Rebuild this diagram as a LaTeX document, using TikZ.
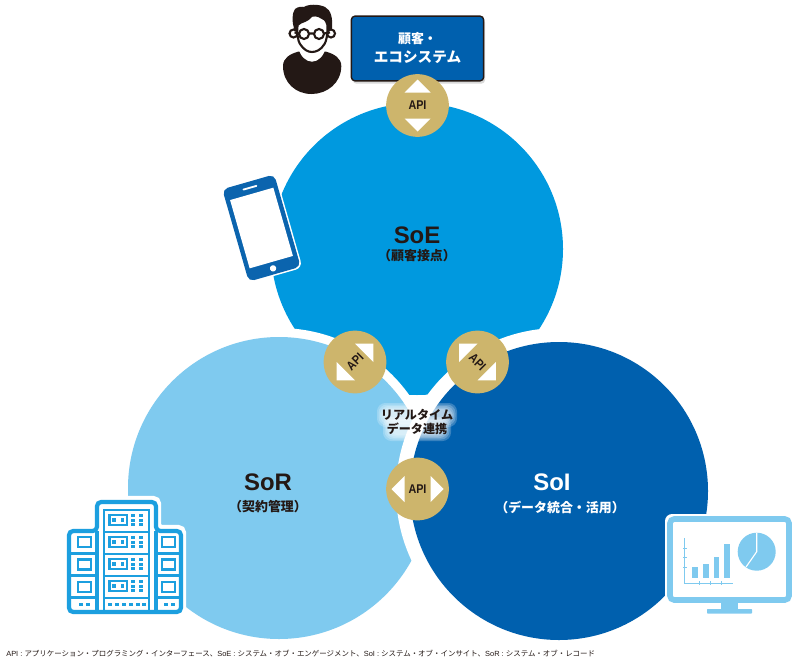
\documentclass[tikz,border=0pt]{standalone}
\usepackage{fontspec}
\setmainfont{Noto Sans CJK JP}
\newfontfamily\latinfont{Liberation Sans}
\newfontfamily\apifont[FakeStretch=0.85]{Liberation Sans}
\usetikzlibrary{shadows}
\definecolor{colorE}{HTML}{0099DF}
\definecolor{colorR}{HTML}{7FCAEF}
\definecolor{colorI}{HTML}{0060AE}
\definecolor{colorA}{HTML}{CDB56C}
\definecolor{colorK}{HTML}{231815}
\definecolor{colorP}{HTML}{0B64AE}
\definecolor{colorB}{HTML}{1C9FDF}
\tikzset{
    bigname/.style={font=\latinfont\bfseries\fontsize{17}{20}\selectfont, text=#1},
    subname/.style={font=\bfseries\fontsize{9.2}{11}\selectfont, text=#1, inner sep=0pt},
    badge/.style={circle, fill=colorA, minimum size=44.6pt, inner sep=0pt, text=colorK,
        font=\apifont\bfseries\fontsize{9}{10}\selectfont},
    bld/.style={draw=colorB, line width=3pt},
    bldthin/.style={draw=colorB, line width=1.9pt},
    bldbox/.style={draw=colorB, line width=1.5pt},
}
\newcommand{\apitri}[2]{
    \begin{scope}[shift={(#1)}, rotate=#2]
        \fill[white] (26,0) -- (13,13) -- (13,-13) -- cycle;
        \fill[white] (-26,0) -- (-13,13) -- (-13,-13) -- cycle;
    \end{scope}
}
\begin{document}
\begin{tikzpicture}[x=0.025cm, y=-0.025cm]
    \useasboundingbox (0,0) rectangle (800,670);
    % circles
    \fill[colorE] (417,249) circle (146);
    \fill[white] (279,488) circle (160);
    \fill[colorR] (279,488) circle (151);
    \fill[white] (559,491) circle (163);
    \fill[colorI] (559,491) circle (149);
    % customer box
    \node[draw=colorK, fill=colorI, line width=1pt, rounded corners=2.5pt, minimum width=94pt,
        minimum height=46pt, inner sep=0pt, align=center, text=white,
        font=\bfseries\fontsize{10.4}{13.5}\selectfont,
        drop shadow={shadow xshift=1pt, shadow yshift=-2pt, opacity=0.3}] (customer) at (417.5,48.5)
        {{\fontsize{9.2}{13.5}\selectfont 顧客・}\\エコシステム};
    % person
    \fill[colorK] (283,66) .. controls (283,58) and (290,54) .. (298,51.7) -- (326.3,51.7)
        .. controls (334,54) and (341.3,58) .. (341.3,66) .. controls (341.3,83) and (327,94) .. (311.5,94)
        .. controls (296,94) and (283,83) .. (283,66) -- cycle;
    \fill[white] (298.5,48) .. controls (300,56) and (306,61.7) .. (312,61.7)
        .. controls (318,61.7) and (324,56) .. (325.5,48) -- cycle;
    \fill[colorK] (294.5,30) .. controls (292,22) and (291.5,14) .. (295,9) .. controls (298,6.5) and (302,6.5) .. (304,7)
        .. controls (308,4) and (319,4) .. (325,7) .. controls (331,10) and (333,18) .. (332,30) -- cycle;
    \draw[colorK, line width=1.5pt, fill=white] (293.5,33.5) circle (4);
    \draw[colorK, line width=1.5pt, fill=white] (331,33.5) circle (4);
    \draw[colorK, line width=1.5pt, fill=white] (297.5,25) .. controls (297,35) and (298,41) .. (300,44)
        .. controls (304,50) and (308,52) .. (312,52) .. controls (316,52) and (321,50) .. (324.5,44)
        .. controls (326.5,41) and (327.5,35) .. (327.5,25) .. controls (326,20) and (324,18) .. (321.3,17.5)
        .. controls (318,15) and (313,15) .. (311.3,16) .. controls (309,19) and (306,20.5) .. (304.7,21)
        .. controls (302,22) and (299,23) .. (297.5,25) -- cycle;
    \draw[colorK, line width=1.5pt] (294.5,32.5) -- (299,33.5) (323.7,33.5) -- (330,32.5) (309,33.5) -- (313.7,33.5);
    \draw[colorK, line width=1.5pt, fill=white] (304,34) circle (5);
    \draw[colorK, line width=1.5pt, fill=white] (319,34) circle (5);
    % phone
    \begin{scope}[shift={(261.5,228)}, rotate=16]
        \fill[white, rounded corners=5pt] (-28.5,-49.5) rectangle (28.5,49.5);
        \fill[colorP, rounded corners=4pt] (-27,-48) rectangle (27,48);
        \fill[white] (-22.5,-35.5) rectangle (22.5,35.5);
        \fill[white, rounded corners=0.5pt] (-7.5,-42.8) rectangle (7.5,-41);
        \fill[white] (0,42) circle (3.2);
    \end{scope}
    % building
    \fill[white, draw=white, line width=6pt, rounded corners=3pt] (68,613) -- (68,529) -- (96,529) -- (96,500)
        -- (157,500) -- (157,529) -- (182,529) -- (182,613) -- cycle;
    \draw[bld, rounded corners=3pt] (69,612) -- (69,531) -- (97,531) -- (97,502) -- (156,502) -- (156,531)
        -- (181,531) -- (181,612) -- cycle;
    \draw[bld] (97,531) -- (97,612);
    \draw[bld] (156,531) -- (156,612);
    \draw[bldthin] (104,612) -- (104,510) -- (149,510) -- (149,612);
    \foreach \r in {0,1,2,3} {
        \draw[bldthin] (104,532+22*\r) -- (149,532+22*\r);
        \draw[bldbox] (109.5,515+22*\r) rectangle (127,525+22*\r);
        \fill[colorB] (112,518.3+22*\r) rectangle (115.5,521.7+22*\r);
        \fill[colorB] (120.5,518.3+22*\r) rectangle (124,521.7+22*\r);
        \foreach \cx in {133,141} \foreach \cy in {515.5,520,524.5}
            \fill[colorB] (\cx-1.7,\cy-1.5+22*\r) rectangle (\cx+1.7,\cy+1.5+22*\r);
    }
    \foreach \cx in {110,117,124,131,138,144}
        \fill[colorB] (\cx-1.7,602.5) rectangle (\cx+1.7,605.5);
    \foreach \r in {0,1,2} {
        \draw[bldthin] (69,553.5+22*\r) -- (97,553.5+22*\r);
        \draw[bldthin] (156,553.5+22*\r) -- (181,553.5+22*\r);
        \draw[bldbox] (78,537+22.5*\r) rectangle (91,547+22.5*\r);
        \draw[bldbox] (162,537+22.5*\r) rectangle (175,547+22.5*\r);
    }
    \foreach \cx in {81,88,166,173}
        \fill[colorB] (\cx-1.7,602.5) rectangle (\cx+1.7,605.5);
    % monitor
    \fill[white, rounded corners=5pt] (665,514) rectangle (794,605);
    \draw[colorR, line width=4pt, rounded corners=3pt, fill=white] (670,519) rectangle (789,600);
    \fill[colorR] (721,603) rectangle (738,610);
    \fill[colorR, rounded corners=0.5pt] (707,609) rectangle (752,613.5);
    \draw[colorR, line width=1.1pt] (684.7,538) -- (684.7,583.5) -- (733,583.5);
    \foreach \tx in {699,710,721}
        \draw[colorR, line width=0.5pt] (\tx,581) -- (\tx,585);
    \foreach \ty in {548,557,567}
        \draw[colorR, line width=0.5pt] (683,\ty) -- (687,\ty);
    \foreach \bx/\by in {692/566.7, 703/564, 713.5/557, 724/544}
        \fill[colorR] (\bx,\by) rectangle (\bx+5.5,578);
    \fill[colorR] (756.7,551.7) circle (19);
    \draw[white, line width=0.8pt] (756.7,532.7) -- (756.7,551.7) -- (746,567);
    % names
    \node[bigname=colorK] (soe) at (417,235) {SoE};
    \node[subname=colorK] (soesub) at (417,256) {（顧客接点）};
    \node[bigname=colorK] (sor) at (268,482) {SoR};
    \node[subname=colorK] (sorsub) at (268,507) {（契約管理）};
    \node[bigname=white] (soi) at (552,482) {SoI};
    \node[subname=white] (soisub) at (560,507) {（データ統合・活用）};
    % middle label
    \foreach \g in {0,1,2,3,4} {
        \fill[white, opacity=0.22, rounded corners=6pt] (383-\g*1.5,409-\g*1.5) rectangle (451+\g*1.5,421+\g*1.5);
        \fill[white, opacity=0.22, rounded corners=6pt] (389-\g*1.5,423-\g*1.5) rectangle (445+\g*1.5,435+\g*1.5);
    }
    \node[align=center, inner sep=0pt, text=colorK, font=\bfseries\fontsize{8.6}{10}\selectfont] (link) at (417,422)
        {リアルタイム\\データ連携};
    % badges
    \node[badge] (apitop) at (417.5,105.5) {API};
    \node[badge] (apibot) at (417.5,489) {API};
    \node[badge, rotate=45] (apileft) at (355,362) {API};
    \node[badge, rotate=-45] (apiright) at (477.5,362) {API};
    \apitri{apitop}{90}
    \apitri{apibot}{0}
    \apitri{apileft}{45}
    \apitri{apiright}{135}
    % footnote
    \node[anchor=west, inner sep=0pt, text=colorK, font=\fontsize{5.3}{7}\selectfont] (note) at (6,654)
        {{\latinfont API : }アプリケーション・プログラミング・インターフェース、{\latinfont SoE : }システム・オブ・エンゲージメント、{\latinfont SoI : }システム・オブ・インサイト、{\latinfont SoR : }システム・オブ・レコード};
\end{tikzpicture}
\end{document}
